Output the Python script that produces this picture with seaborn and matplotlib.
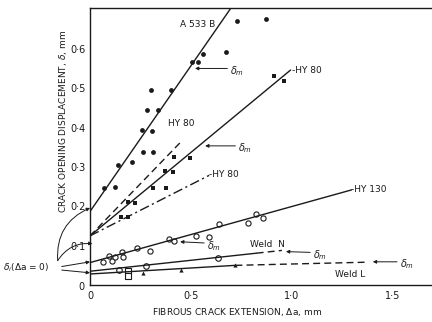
import numpy as np
import pandas as pd
import matplotlib
matplotlib.use("Agg")
import matplotlib.pyplot as plt
import seaborn as sns

# ---------------- data ----------------
a533b_x = [0.07, 0.125, 0.14, 0.206, 0.264, 0.31, 0.257, 0.307, 0.284, 0.335,
           0.30, 0.40, 0.503, 0.536, 0.561, 0.672, 0.729, 0.87]
a533b_y = [0.246, 0.25, 0.305, 0.312, 0.339, 0.339, 0.394, 0.393, 0.445, 0.445,
           0.496, 0.496, 0.567, 0.567, 0.588, 0.592, 0.673, 0.676]

hy80_x = [0.153, 0.186, 0.186, 0.224, 0.31, 0.376, 0.373, 0.409, 0.418, 0.497, 0.911, 0.96]
hy80_y = [0.174, 0.174, 0.21, 0.208, 0.248, 0.248, 0.291, 0.287, 0.325, 0.322, 0.532, 0.519]

hy130_x = [0.066, 0.094, 0.11, 0.124, 0.157, 0.165, 0.231, 0.297, 0.39, 0.418,
           0.525, 0.59, 0.639, 0.784, 0.82, 0.858]
hy130_y = [0.059, 0.075, 0.061, 0.072, 0.085, 0.07, 0.094, 0.087, 0.116, 0.113,
           0.125, 0.123, 0.155, 0.157, 0.181, 0.17]

weldn_x = [0.145, 0.277, 0.632]
weldn_y = [0.038, 0.049, 0.069]
weldn_sq_x = [0.188, 0.188]
weldn_sq_y = [0.035, 0.023]

weldl_x = [0.264, 0.45, 0.718]
weldl_y = [0.031, 0.038, 0.051]

# fitted lines (end points)
a533b_line_x = [0.0, 0.76]
a533b_line_y = [0.187, 0.751]
hy80_line_x = [0.0, 0.993]
hy80_line_y = [0.125, 0.547]
hy80_dash_x = [0.0, 0.459]
hy80_dash_y = [0.125, 0.369]
hy80_dd_x = [0.0, 0.59]
hy80_dd_y = [0.125, 0.279]
hy130_line_x = [0.0, 1.295]
hy130_line_y = [0.057, 0.242]
weldn_solid_x = [0.0, 0.825]
weldn_solid_y = [0.035, 0.081]
weldn_dash_x = [0.825, 0.95]
weldn_dash_y = [0.081, 0.088]
weldl_solid_x = [0.0, 0.72]
weldl_solid_y = [0.028, 0.050]
weldl_dash_x = [0.72, 1.37]
weldl_dash_y = [0.050, 0.058]

x_ticks = [0, 0.5, 1.0, 1.5]
x_tick_labels = ["0", "0·5", "1·0", "1·5"]
y_ticks = [0.1, 0.2, 0.3, 0.4, 0.5, 0.6]
y_tick_labels = ["0·1", "0·2", "0·3", "0·4", "0·5", "0·6"]

# ---------------- plotting ----------------
sns.set_style("white")
plt.rcParams['font.family'] = ['DejaVu Sans']

W, H = 432, 322
fig = plt.figure(figsize=(W / 100, H / 100), dpi=100)
ax = fig.add_axes([90 / W, 1 - 285 / H, 342 / W, 277 / H])

ink = "#1a1a1a"

def line(xs, ys, ls="-", lw=1.0):
    df = pd.DataFrame({"x": xs, "y": ys})
    sns.lineplot(data=df, x="x", y="y", ax=ax, color=ink, lw=lw, linestyle=ls,
                 sort=False, estimator=None)

line(a533b_line_x, a533b_line_y)
line(hy80_line_x, hy80_line_y)
line(hy80_dash_x, hy80_dash_y, ls=(0, (5, 3)))
line(hy80_dd_x, hy80_dd_y, ls=(0, (7, 2.5, 1.5, 2.5)))
line(hy130_line_x, hy130_line_y)
line(weldn_solid_x, weldn_solid_y)
line(weldn_dash_x, weldn_dash_y, ls=(0, (5, 3)))
line(weldl_solid_x, weldl_solid_y)
line(weldl_dash_x, weldl_dash_y, ls=(0, (5, 3)))

sns.scatterplot(x=a533b_x, y=a533b_y, ax=ax, color=ink, marker="o", s=12, linewidth=0)
sns.scatterplot(x=hy80_x, y=hy80_y, ax=ax, color=ink, marker="s", s=11, linewidth=0)
sns.scatterplot(x=hy130_x, y=hy130_y, ax=ax, marker="o", s=14,
                facecolor="white", edgecolor=ink, linewidth=0.8)
sns.scatterplot(x=weldn_x, y=weldn_y, ax=ax, marker="o", s=16,
                facecolor="white", edgecolor=ink, linewidth=0.8)
sns.scatterplot(x=weldn_sq_x, y=weldn_sq_y, ax=ax, marker="s", s=14,
                facecolor="white", edgecolor=ink, linewidth=0.8)
sns.scatterplot(x=weldl_x, y=weldl_y, ax=ax, color=ink, marker="^", s=9, linewidth=0)

ax.set_xlim(0, 342 / 202)
ax.set_ylim(0, 277 / 393)

# labels for the lines
fs = 6.5
ax.text(0.62, 0.664, "A 533 B", ha="right", va="center", fontsize=fs, color=ink)
ax.text(1.0, 0.547, "-HY 80", ha="left", va="center", fontsize=fs, color=ink)
ax.text(0.45, 0.41, "HY 80", ha="center", va="center", fontsize=fs, color=ink)
ax.text(0.59, 0.28, "-HY 80", ha="left", va="center", fontsize=fs, color=ink)
ax.text(1.293, 0.242, "-HY 130", ha="left", va="center", fontsize=fs, color=ink)
ax.text(0.88, 0.104, "Weld  N", ha="center", va="center", fontsize=fs, color=ink)
ax.text(1.29, 0.027, "Weld L", ha="center", va="center", fontsize=fs, color=ink)

# delta_m arrows
arrows = [((0.52, 0.551), (0.68, 0.551), (0.695, 0.545)),
          ((0.57, 0.354), (0.72, 0.354), (0.735, 0.348)),
          ((0.446, 0.110), (0.565, 0.107), (0.58, 0.100)),
          ((0.97, 0.085), (1.09, 0.083), (1.105, 0.077)),
          ((1.40, 0.059), (1.52, 0.059), (1.535, 0.052))]
for head, tail, txt in arrows:
    ax.annotate("", xy=head, xytext=tail,
                arrowprops=dict(arrowstyle="-|>", color=ink, lw=0.7,
                                mutation_scale=5, shrinkA=0, shrinkB=0))
    ax.text(txt[0], txt[1], r"$\delta_m$", ha="left", va="center", fontsize=7, color=ink)

# delta_i (Δa = 0) annotation
ax.text(-0.43, 0.043, r"$\delta_i$($\Delta$a = 0)", ha="left", va="center",
        fontsize=6.5, color=ink, clip_on=False)
src = (-0.16, 0.062)
for tgt, rad in [((0.0, 0.196), -0.35), ((0.012, 0.105), -0.3)]:
    ax.annotate("", xy=tgt, xytext=src, annotation_clip=False,
                arrowprops=dict(arrowstyle="-|>", color=ink, lw=0.7, mutation_scale=5,
                                shrinkA=0, shrinkB=0,
                                connectionstyle=f"arc3,rad={rad}"))
for tgt, s in [((0.0, 0.059), (-0.14, 0.047)), ((0.0, 0.031), (-0.14, 0.038))]:
    ax.annotate("", xy=tgt, xytext=s, annotation_clip=False,
                arrowprops=dict(arrowstyle="-|>", color=ink, lw=0.7, mutation_scale=5,
                                shrinkA=0, shrinkB=0))

# axes styling
ax.set_xticks(x_ticks)
ax.set_xticklabels(x_tick_labels)
ax.set_yticks(y_ticks)
ax.set_yticklabels(y_tick_labels)
ax.tick_params(axis="both", direction="in", length=4, width=0.8, colors=ink,
               labelsize=7, pad=3)
ax.tick_params(axis="x", pad=4)
ax.text(-0.04, -0.004, "0", ha="center", va="center", fontsize=7, color=ink, clip_on=False)

for side in ["left", "bottom", "top"]:
    ax.spines[side].set_color(ink)
    ax.spines[side].set_linewidth(1.0)
ax.spines["right"].set_visible(False)

ax.set_xlabel("FIBROUS CRACK EXTENSION, $\\Delta$a, mm", fontsize=6.5, color=ink)
ax.set_ylabel("CRACK OPENING DISPLACEMENT, $\\delta$, mm", fontsize=6.5, color=ink)
ax.xaxis.set_label_coords(0.43, -0.075)
ax.yaxis.set_label_coords(-0.06, 0.59)

fig.savefig("out.png", dpi=100, facecolor="white")
